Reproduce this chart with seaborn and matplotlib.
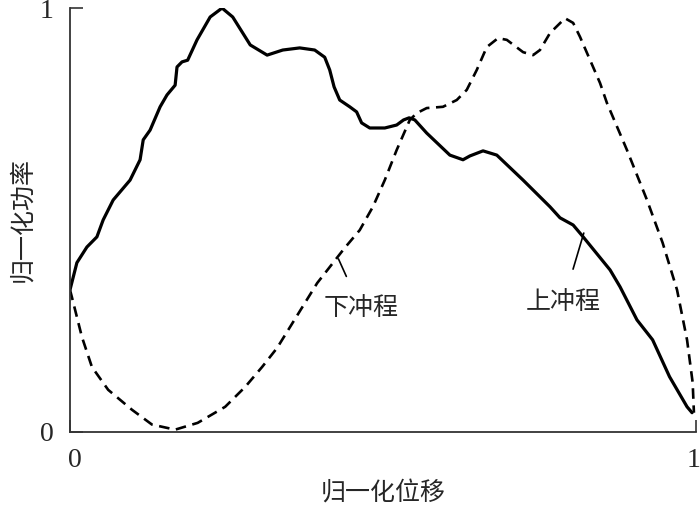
import matplotlib
matplotlib.use("Agg")
import matplotlib.pyplot as plt
import matplotlib.transforms as mtransforms
import pandas as pd
import seaborn as sns

# normalized displacement / power
# upstroke (solid)
up_x = [0.000, 0.011, 0.027, 0.043, 0.053, 0.069, 0.096, 0.112, 0.117, 0.128, 0.144, 0.155,
        0.168, 0.171, 0.179, 0.188, 0.203, 0.224, 0.243, 0.260, 0.288, 0.315, 0.340, 0.367,
        0.391, 0.407, 0.415, 0.422, 0.431, 0.447, 0.458, 0.466, 0.479, 0.503, 0.522, 0.533,
        0.542, 0.551, 0.570, 0.607, 0.628, 0.639, 0.660, 0.682, 0.724, 0.767, 0.783, 0.804,
        0.820, 0.863, 0.879, 0.906, 0.931, 0.958, 0.986, 0.994]
up_y = [0.335, 0.399, 0.436, 0.460, 0.500, 0.547, 0.594, 0.642, 0.689, 0.712, 0.767, 0.795,
        0.818, 0.861, 0.873, 0.877, 0.925, 0.979, 1.000, 0.979, 0.913, 0.889, 0.901, 0.906,
        0.901, 0.884, 0.854, 0.814, 0.783, 0.767, 0.755, 0.729, 0.717, 0.717, 0.724, 0.736,
        0.741, 0.736, 0.705, 0.653, 0.642, 0.651, 0.663, 0.653, 0.594, 0.531, 0.505, 0.488,
        0.460, 0.382, 0.342, 0.264, 0.217, 0.130, 0.059, 0.045]

# downstroke (dashed)
down_x = [0.000, 0.003, 0.019, 0.035, 0.061, 0.099, 0.131, 0.168, 0.204, 0.248, 0.280, 0.307,
          0.331, 0.395, 0.439, 0.463, 0.484, 0.503, 0.522, 0.543, 0.554, 0.570, 0.596, 0.618,
          0.634, 0.650, 0.666, 0.684, 0.698, 0.724, 0.740, 0.751, 0.767, 0.791, 0.804, 0.815,
          0.847, 0.858, 0.890, 0.922, 0.947, 0.970, 0.986, 0.995, 0.997]
down_y = [0.335, 0.318, 0.224, 0.153, 0.099, 0.052, 0.017, 0.005, 0.021, 0.059, 0.106, 0.153,
          0.198, 0.351, 0.434, 0.476, 0.531, 0.594, 0.665, 0.736, 0.752, 0.764, 0.767, 0.783,
          0.807, 0.854, 0.908, 0.929, 0.925, 0.896, 0.889, 0.901, 0.941, 0.976, 0.965, 0.932,
          0.823, 0.776, 0.665, 0.547, 0.446, 0.335, 0.217, 0.116, 0.045]

tick_labels = ["0", "1"]

up_df = pd.DataFrame({"x": up_x, "y": up_y})
down_df = pd.DataFrame({"x": down_x, "y": down_y})

sns.set_theme(style="ticks")
plt.rcParams['font.family'] = ['Liberation Serif', 'Noto Sans CJK SC', 'DejaVu Sans']

fig = plt.figure(figsize=(7, 5.05), dpi=100)
ax = fig.add_axes([0.1, 0.145, 0.894, 0.839])

sns.lineplot(data=up_df, x="x", y="y", color="black", linewidth=2.3, sort=False, ax=ax,
             solid_joinstyle="round", solid_capstyle="round")
sns.lineplot(data=down_df, x="x", y="y", color="black", linewidth=1.9, sort=False, ax=ax,
             linestyle=(0, (4, 2.5)), dash_joinstyle="round")

ax.set_xlim(0, 1)
ax.set_ylim(0, 1)
ax.set_xticks([0, 1])
ax.set_yticks([0, 1])
ax.set_xticklabels(tick_labels)
ax.set_yticklabels(tick_labels)
ax.tick_params(direction="in", length=9, width=1.2, color="#333333", labelsize=20, pad=12)
for side in ["top", "right"]:
    ax.spines[side].set_visible(False)
for side in ["left", "bottom"]:
    ax.spines[side].set_color("#333333")
    ax.spines[side].set_linewidth(1.3)

# nudge the x tick labels like the reference ("0" a bit right, "1" kept inside)
xl = ax.get_xticklabels()
xl[0].set_transform(xl[0].get_transform() + mtransforms.ScaledTranslation(5 / 100, 0, fig.dpi_scale_trans))
xl[1].set_transform(xl[1].get_transform() + mtransforms.ScaledTranslation(-2 / 100, 0, fig.dpi_scale_trans))

ax.set_xlabel("归一化位移", fontsize=18, labelpad=6)
ax.set_ylabel("归一化功率", fontsize=18, labelpad=4)

# leader lines and labels
ax.annotate("下冲程", xy=(0.429, 0.408), xytext=(0.465, 0.29), fontsize=18, ha="center",
            va="center", arrowprops=dict(arrowstyle="-", color="black", lw=1.2,
                                         shrinkA=14, shrinkB=0))
ax.annotate("上冲程", xy=(0.821, 0.469), xytext=(0.788, 0.305), fontsize=18, ha="center",
            va="center", arrowprops=dict(arrowstyle="-", color="black", lw=1.2,
                                         shrinkA=14, shrinkB=0))

plt.savefig("out.png", dpi=100)
